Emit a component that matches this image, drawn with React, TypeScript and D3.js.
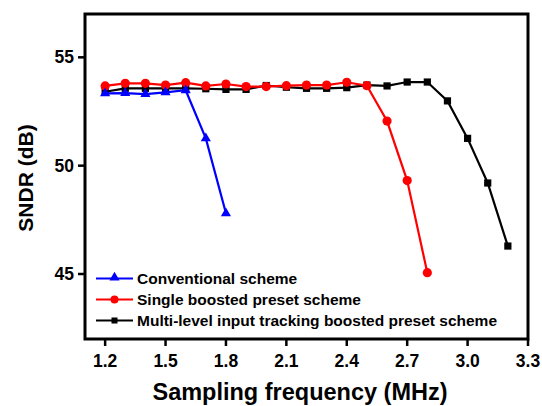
import React from "react";
import * as d3 from "d3";

const xConv = [1.2, 1.3, 1.4, 1.5, 1.6, 1.7, 1.8];
const yConv = [53.34, 53.35, 53.3, 53.38, 53.48, 51.26, 47.8];

const xSingle = [1.2, 1.3, 1.4, 1.5, 1.6, 1.7, 1.8, 1.9, 2.0, 2.1, 2.2, 2.3, 2.4, 2.5, 2.6, 2.7, 2.8];
const ySingle = [53.68, 53.8, 53.8, 53.72, 53.83, 53.68, 53.77, 53.65, 53.65, 53.69, 53.72, 53.72, 53.85, 53.69, 52.06, 49.31, 45.06];

const xMulti = [1.2, 1.3, 1.4, 1.5, 1.6, 1.7, 1.8, 1.9, 2.0, 2.1, 2.2, 2.3, 2.4, 2.5, 2.6, 2.7, 2.8, 2.9, 3.0, 3.1, 3.2];
const yMulti = [53.41, 53.57, 53.57, 53.57, 53.57, 53.55, 53.52, 53.52, 53.7, 53.62, 53.57, 53.57, 53.6, 53.72, 53.68, 53.86, 53.86, 52.99, 51.26, 49.2, 46.29];

const xTicks = [1.2, 1.5, 1.8, 2.1, 2.4, 2.7, 3.0, 3.3];
const yTicks = [45, 50, 55];

const legendLabels = [
  "Conventional scheme",
  "Single boosted preset scheme",
  "Multi-level input tracking boosted preset scheme",
];

const W = 542;
const H = 406;
const L = 85, R = 528, T = 14, B = 339;
const font = "'Liberation Sans', Arial, sans-serif";

function Marker({ kind, x, y, color }: { kind: string; x: number; y: number; color: string }) {
  if (kind === "tri") {
    const s = 9;
    const p = d3.symbol().type(d3.symbolTriangle).size(s * s * 0.55)();
    return <path d={p || ""} transform={`translate(${x},${y})`} fill={color} />;
  }
  if (kind === "circle") return <circle cx={x} cy={y} r={4.6} fill={color} />;
  return <rect x={x - 3.6} y={y - 3.6} width={7.2} height={7.2} fill={color} />;
}

export default function App() {
  const xs = d3.scaleLinear().domain([1.1, 3.3]).range([L, R]);
  const ys = d3.scaleLinear().domain([42, 57]).range([B, T]);
  const line = d3.line<[number, number]>().x((d) => xs(d[0])).y((d) => ys(d[1]));

  const series = [
    { xsv: xConv, ysv: yConv, color: "#0000ff", kind: "tri" },
    { xsv: xSingle, ysv: ySingle, color: "#ff0000", kind: "circle" },
    { xsv: xMulti, ysv: yMulti, color: "#000000", kind: "sq" },
  ];
  const drawOrder = [2, 1, 0];

  return (
    <svg width={W} height={H} style={{ position: "absolute", left: 0, top: 0, background: "#fff" }}>
      <rect x={0} y={0} width={W} height={H} fill="#fff" />
      {drawOrder.map((i) => {
        const s = series[i];
        const pts = s.xsv.map((x, j) => [x, s.ysv[j]] as [number, number]);
        return (
          <g key={i}>
            <path d={line(pts) || ""} fill="none" stroke={s.color} strokeWidth={2.2} />
            {pts.map((p, j) => (
              <Marker key={j} kind={s.kind} x={xs(p[0])} y={ys(p[1])} color={s.color} />
            ))}
          </g>
        );
      })}
      {/* frame */}
      <rect x={L} y={T} width={R - L} height={B - T} fill="none" stroke="#000" strokeWidth={3} />
      {/* x ticks */}
      {xTicks.map((t) => (
        <g key={t}>
          <line x1={xs(t)} x2={xs(t)} y1={B} y2={B + 7} stroke="#000" strokeWidth={2.5} />
          <text x={xs(t)} y={B + 28} textAnchor="middle" fontFamily={font} fontWeight="bold" fontSize={17.5}>
            {t.toFixed(1)}
          </text>
        </g>
      ))}
      {yTicks.map((t) => (
        <g key={t}>
          <line x1={L} x2={L - 7} y1={ys(t)} y2={ys(t)} stroke="#000" strokeWidth={2.5} />
          <text x={L - 11} y={ys(t) + 6} textAnchor="end" fontFamily={font} fontWeight="bold" fontSize={17.5}>
            {t}
          </text>
        </g>
      ))}
      <text x={300} y={400} textAnchor="middle" fontFamily={font} fontWeight="bold" fontSize={23.5}>
        Sampling frequency (MHz)
      </text>
      <text
        transform={`translate(33,178) rotate(-90)`}
        textAnchor="middle"
        fontFamily={font}
        fontWeight="bold"
        fontSize={21}
      >
        SNDR (dB)
      </text>
      {/* legend */}
      {series.map((s, i) => {
        const ly = 278.5 + i * 21;
        return (
          <g key={i}>
            <line x1={96} x2={133} y1={ly} y2={ly} stroke={s.color} strokeWidth={2.2} />
            {s.kind === "tri" ? (
              <Marker kind="tri" x={114.5} y={ly - 1} color={s.color} />
            ) : s.kind === "circle" ? (
              <circle cx={114.5} cy={ly} r={4} fill={s.color} />
            ) : (
              <rect x={111.5} y={ly - 3} width={6} height={6} fill={s.color} />
            )}
            <text x={137} y={ly + 5.5} fontFamily={font} fontWeight="bold" fontSize={15.5}>
              {legendLabels[i]}
            </text>
          </g>
        );
      })}
    </svg>
  );
}
